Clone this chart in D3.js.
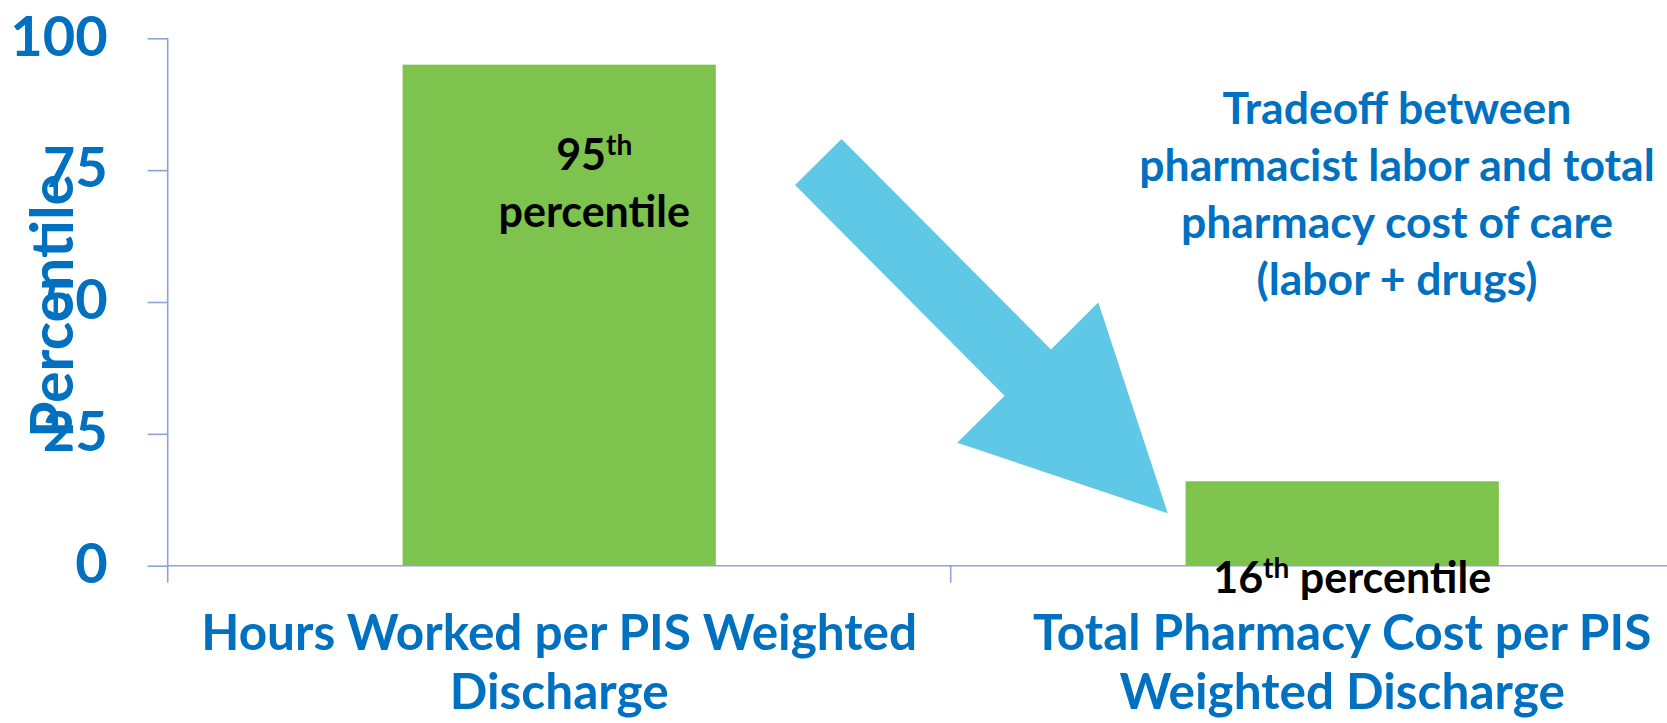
<!DOCTYPE html>
<html>
<head>
<meta charset="utf-8">
<script src="https://cdn.jsdelivr.net/npm/d3@7"></script>
<style>
  html, body { margin: 0; padding: 0; background: #ffffff; overflow: hidden; }
  svg { display: block; font-family: Lato, "Noto Sans", sans-serif; font-weight: 700; }
</style>
</head>
<body>
<svg id="chart" width="1667" height="723"></svg>
<script>
// Percentile ranks of the two pharmacy measures
const categories = [
  "Hours Worked per PIS Weighted Discharge",
  "Total Pharmacy Cost per PIS Weighted Discharge"
];
const categoryLines = [
  ["Hours Worked per PIS Weighted", "Discharge"],
  ["Total Pharmacy Cost per PIS", "Weighted Discharge"]
];
const percentiles = [95, 16];
const yTicks = [0, 25, 50, 75, 100];
const noteLines = [
  "Tradeoff between",
  "pharmacist labor and total",
  "pharmacy cost of care",
  "(labor + drugs)"
];

const BLUE = "#0070C0";
const GREEN = "#7EC34D";
const AXIS = "#8BA4D3";
const ARROW = "#5EC8E6";

const svg = d3.select("#chart");
const W = 1667, H = 723;

const plot = { left: 167.7, top: 38.3, bottom: 565.7, right: 1733.7 };

const x = d3.scaleBand()
  .domain(categories)
  .range([plot.left, plot.right])
  .paddingInner(0.6)
  .paddingOuter(0.3);

const y = d3.scaleLinear()
  .domain([0, 100])
  .range([plot.bottom, plot.top]);

// Bars
svg.append("g")
  .selectAll("rect")
  .data(categories)
  .join("rect")
  .attr("x", d => x(d))
  .attr("y", (d, i) => y(percentiles[i]))
  .attr("width", x.bandwidth())
  .attr("height", (d, i) => y(0) - y(percentiles[i]))
  .attr("fill", GREEN);

// Y axis
const yAxis = d3.axisLeft(y)
  .tickValues(yTicks)
  .tickSize(20)
  .tickPadding(40)
  .tickFormat(d3.format("d"));

const gy = svg.append("g")
  .attr("transform", `translate(${plot.left},0)`)
  .call(yAxis);
gy.select(".domain").attr("stroke", AXIS).attr("stroke-width", 1.6)
  .attr("d", `M0,${plot.top}V${plot.bottom}`);
gy.selectAll(".tick line").attr("stroke", AXIS).attr("stroke-width", 1.6);
gy.selectAll(".tick text")
  .attr("fill", BLUE)
  .attr("font-family", "Lato, sans-serif")
  .attr("font-weight", 700)
  .attr("font-size", 56)
  .attr("dy", "0.3em");

// X axis line with category boundary ticks
const step = x.step();
const boundaries = categories.map(c => x(c) + x.bandwidth() / 2 - step / 2);
svg.append("line")
  .attr("x1", plot.left).attr("x2", W)
  .attr("y1", y(0)).attr("y2", y(0))
  .attr("stroke", AXIS).attr("stroke-width", 1.6);
svg.append("g")
  .selectAll("line")
  .data(boundaries)
  .join("line")
  .attr("x1", d => d).attr("x2", d => d)
  .attr("y1", y(0)).attr("y2", y(0) + 17)
  .attr("stroke", AXIS).attr("stroke-width", 1.6);

// Category labels
const catG = svg.append("g")
  .attr("fill", BLUE)
  .attr("font-size", 49.5)
  .attr("text-anchor", "middle");
categories.forEach((c, i) => {
  const cx = x(c) + x.bandwidth() / 2;
  categoryLines[i].forEach((line, j) => {
    catG.append("text")
      .attr("x", cx)
      .attr("y", y(0) + 84 + j * 59)
      .text(line);
  });
});

// Y axis title
svg.append("text")
  .attr("transform", `translate(73,${(plot.top + plot.bottom) / 2 + 4}) rotate(-90)`)
  .attr("text-anchor", "middle")
  .attr("fill", BLUE)
  .attr("font-size", 59)
  .text("Percentile");

// Ordinal suffix for value labels
const suffix = v => {
  const t = v % 100;
  if (t >= 11 && t <= 13) return "th";
  return ({1: "st", 2: "nd", 3: "rd"})[v % 10] || "th";
};

// Value label inside the tall bar (two lines)
{
  const c = categories[0], v = percentiles[0];
  const cx = x(c) + x.bandwidth() / 2 + 35;
  const t1 = svg.append("text")
    .attr("x", cx).attr("y", y(v) + 105)
    .attr("text-anchor", "middle")
    .attr("fill", "#000")
    .attr("font-size", 43);
  t1.append("tspan").text(v);
  t1.append("tspan").attr("font-size", 28).attr("dy", -15).text(suffix(v));
  svg.append("text")
    .attr("x", cx).attr("y", y(v) + 162)
    .attr("text-anchor", "middle")
    .attr("fill", "#000")
    .attr("font-size", 43)
    .text("percentile");
}

// Value label under the short bar (one line)
{
  const c = categories[1], v = percentiles[1];
  const cx = x(c) + x.bandwidth() / 2 + 10;
  const t = svg.append("text")
    .attr("x", cx).attr("y", y(0) + 27.5)
    .attr("text-anchor", "middle")
    .attr("fill", "#000")
    .attr("font-size", 43);
  t.append("tspan").text(v);
  t.append("tspan").attr("font-size", 28).attr("dy", -15).text(suffix(v));
  t.append("tspan").attr("dy", 15).text(" percentile");
}

// Block arrow pointing from the tall bar toward the short one
{
  const len = 495.5, shaftW = 65.5, headW = 199, headL = 198.5;
  const pts = [
    [0, -shaftW / 2], [len - headL, -shaftW / 2], [len - headL, -headW / 2],
    [len, 0],
    [len - headL, headW / 2], [len - headL, shaftW / 2], [0, shaftW / 2]
  ];
  svg.append("polygon")
    .attr("points", pts.map(p => p.join(",")).join(" "))
    .attr("transform", "translate(818.3,162) rotate(45.15)")
    .attr("fill", ARROW);
}

// Annotation text
const note = svg.append("g")
  .attr("fill", BLUE)
  .attr("font-size", 44.5)
  .attr("text-anchor", "middle");
noteLines.forEach((line, i) => {
  note.append("text")
    .attr("x", 1397)
    .attr("y", 124 + i * 57)
    .text(line);
});
</script>
</body>
</html>
